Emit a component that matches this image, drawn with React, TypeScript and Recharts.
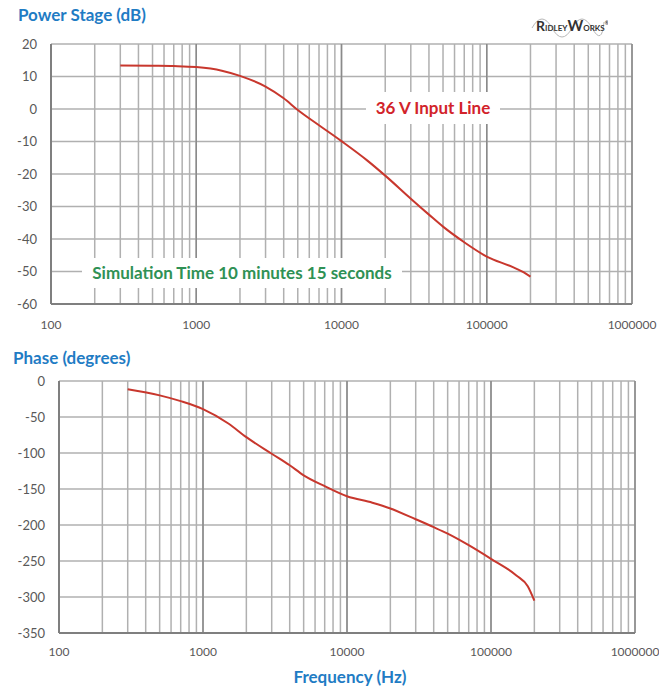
import { LineChart, Line, XAxis, YAxis, CartesianGrid, ReferenceLine } from 'recharts'

const freqs = [300, 500, 700, 1000, 1500, 2000, 3000, 4000, 5000, 7000, 10000, 15000, 20000, 30000, 40000, 50000, 70000, 100000, 150000, 180000, 200000]
const gainDb = [13.4, 13.3, 13.2, 12.9, 11.8, 10.2, 6.9, 3.3, -0.3, -5.0, -9.9, -15.8, -20.5, -27.6, -32.5, -36.2, -41.0, -45.4, -48.6, -50.3, -51.6]
const phaseDeg = [-11.5, -20, -28, -39, -59, -78, -101, -117, -131, -146, -160, -169, -177, -192, -203, -212, -228, -247, -270, -285, -305]

const decades = [100, 1000, 10000, 100000, 1000000]
const freqTicks = [
  100, 200, 300, 400, 500, 600, 700, 800, 900,
  1000, 2000, 3000, 4000, 5000, 6000, 7000, 8000, 9000,
  10000, 20000, 30000, 40000, 50000, 60000, 70000, 80000, 90000,
  100000, 200000, 300000, 400000, 500000, 600000, 700000, 800000, 900000,
  1000000,
]
const gainTicks = [-60, -50, -40, -30, -20, -10, 0, 10, 20]
const phaseTicks = [-350, -300, -250, -200, -150, -100, -50, 0]

const gainData = freqs.map((f, i) => ({ f, v: gainDb[i] }))
const phaseData = freqs.map((f, i) => ({ f, v: phaseDeg[i] }))

const FONT = 'Lato, "Open Sans", sans-serif'
const tickStyle = { fill: '#595959', fontSize: 13, fontFamily: FONT }
const xTickStyle = { ...tickStyle, fontSize: 12 }
const titleStyle = { position: 'absolute' as const, color: '#1f7cc4', fontWeight: 700, fontSize: 17, lineHeight: '20px', fontFamily: FONT, whiteSpace: 'nowrap' as const }
const gridColor = '#b0b0b0'
const decadeColor = '#8a8a8a'

function decadeLabel(v: number) {
  return decades.includes(v) ? String(v) : ''
}

function Logo() {
  return (
    <svg width={80} height={30} style={{ position: 'absolute', left: 528, top: 8 }}>
      <path
        d="M4 20 Q14 2 24 20 T44 20 T64 20 T76 14"
        fill="none"
        stroke="#b8b8b8"
        strokeWidth={1}
      />
      <text x={8} y={23} fontFamily={FONT} fontWeight={700} fill="#333">
        <tspan fontSize={14}>R</tspan>
        <tspan fontSize={8}>IDLEY</tspan>
        <tspan fontSize={15}>W</tspan>
        <tspan fontSize={8}>ORKS</tspan>
        <tspan fontSize={5} dy={-6}>®</tspan>
      </text>
    </svg>
  )
}

export default function App() {
  return (
    <div style={{ position: 'absolute', left: 0, top: 0, width: 659, height: 688, background: '#fff', fontFamily: FONT }}>
      <div style={{ ...titleStyle, left: 18, top: 5 }}>Power Stage (dB)</div>
      <Logo />

      <div style={{ position: 'absolute', left: 0, top: 0 }}>
        <LineChart width={659} height={340} data={gainData} margin={{ top: 44, right: 27, bottom: 6, left: 0 }}>
          <CartesianGrid stroke={gridColor} strokeWidth={1.5} />
          {decades.map((d) => (
            <ReferenceLine key={d} x={d} stroke={decadeColor} strokeWidth={1.5} />
          ))}
          <XAxis
            dataKey="f"
            type="number"
            scale="log"
            domain={[100, 1000000]}
            ticks={freqTicks}
            interval={0}
            tickFormatter={decadeLabel}
            tick={xTickStyle}
            tickLine={false}
            tickSize={0}
            tickMargin={16}
            height={30}
            axisLine={{ stroke: '#7f7f7f', strokeWidth: 2 }}
          />
          <YAxis
            type="number"
            domain={[-60, 20]}
            ticks={gainTicks}
            interval={0}
            tick={tickStyle}
            tickLine={false}
            tickSize={0}
            tickMargin={14}
            width={51}
            axisLine={{ stroke: '#7f7f7f', strokeWidth: 2 }}
          />
          <Line type="monotone" dataKey="v" stroke="#c8372d" strokeWidth={2} dot={false} isAnimationActive={false} />
        </LineChart>
      </div>

      <div
        style={{
          position: 'absolute', left: 366, top: 92, width: 134, height: 32, background: '#fff',
          color: '#d2232a', fontWeight: 700, fontSize: 17, lineHeight: '32px', textAlign: 'center',
        }}
      >
        36 V Input Line
      </div>
      <div
        style={{
          position: 'absolute', left: 82, top: 258, width: 320, height: 30, background: '#fff',
          color: '#2f9155', fontWeight: 700, fontSize: 17, lineHeight: '30px', textAlign: 'center',
        }}
      >
        Simulation Time 10 minutes 15 seconds
      </div>

      <div style={{ ...titleStyle, left: 13, top: 348 }}>Phase (degrees)</div>

      <div style={{ position: 'absolute', left: 0, top: 340 }}>
        <LineChart width={659} height={348} data={phaseData} margin={{ top: 41, right: 24, bottom: 25, left: 0 }}>
          <CartesianGrid stroke={gridColor} strokeWidth={1.5} />
          {decades.map((d) => (
            <ReferenceLine key={d} x={d} stroke={decadeColor} strokeWidth={1.5} />
          ))}
          <XAxis
            dataKey="f"
            type="number"
            scale="log"
            domain={[100, 1000000]}
            ticks={freqTicks}
            interval={0}
            tickFormatter={decadeLabel}
            tick={xTickStyle}
            tickLine={false}
            tickSize={0}
            tickMargin={14}
            height={30}
            axisLine={{ stroke: '#7f7f7f', strokeWidth: 2 }}
          />
          <YAxis
            type="number"
            domain={[-350, 0]}
            ticks={phaseTicks}
            interval={0}
            tick={tickStyle}
            tickLine={false}
            tickSize={0}
            tickMargin={14}
            width={59}
            axisLine={{ stroke: '#7f7f7f', strokeWidth: 2 }}
          />
          <Line type="monotone" dataKey="v" stroke="#c8372d" strokeWidth={2} dot={false} isAnimationActive={false} />
        </LineChart>
      </div>

      <div style={{ ...titleStyle, left: 0, width: 700, textAlign: 'center', top: 667 }}>Frequency (Hz)</div>
    </div>
  )
}
